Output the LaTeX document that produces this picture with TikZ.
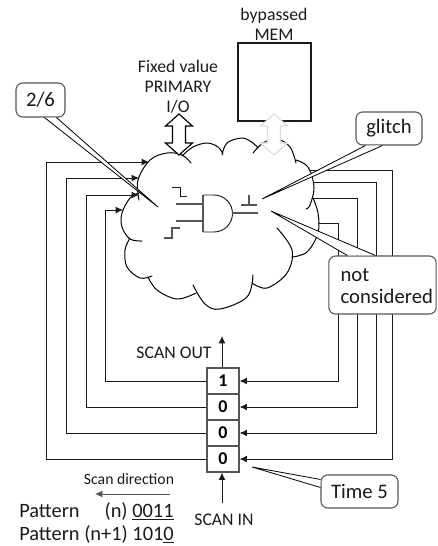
\documentclass[tikz,border=0pt]{standalone}
\usepackage{fontspec}
\setmainfont{Carlito}
\usepackage{xcolor}
\usetikzlibrary{calc,arrows.meta}
\definecolor{ink}{HTML}{1A1A1A}
\definecolor{steel}{HTML}{555555}
\definecolor{pale}{HTML}{DCDCDC}
\tikzset{
  wire/.style={draw=ink, line width=0.75pt, line join=miter},
  wireIn/.style={wire, -{Latex[length=5.5pt,width=5.2pt]}},
  cloudArc/.style={draw=black, line width=0.75pt, line cap=round},
  gateEdge/.style={draw=steel, line width=0.8pt},
  callBox/.style={draw=steel, rounded corners=5pt, fill=white, line width=0.8pt, inner sep=0pt},
  tailEdge/.style={draw=black, line width=0.6pt},
  cellBox/.style={draw=steel, fill=white, line width=0.9pt, minimum width=24pt, minimum height=19.5pt, inner sep=0pt, font=\fontsize{13.5}{15}\selectfont\bfseries},
  dblPort/.style={fill=white, line width=0.85pt},
  lbl/.style={font=\fontsize{13.3}{15}\selectfont, text=ink, align=center, inner sep=0pt},
  bigLbl/.style={font=\fontsize{15.5}{16.5}\selectfont, text=ink, align=left, inner sep=0pt},
  timeLbl/.style={font=\fontsize{15.5}{16}\selectfont, text=ink, inner sep=0pt},
  tinyLbl/.style={font=\fontsize{11.8}{13}\selectfont, text=ink, inner sep=0pt},
  patLbl/.style={font=\fontsize{15.3}{16}\selectfont, text=ink, inner sep=0pt},
}
\newcommand{\CallTail}[3]{%
  \fill[white] (#1) -- (#3) -- (#2) -- cycle;
  \draw[tailEdge] (#1) -- (#3) -- (#2);
}
\newcommand{\CloudBump}[1]{%
  \draw[cloudArc] plot[smooth,tension=0.6] coordinates {#1};
}
\newcommand{\DblPort}[2]{%
  \draw[dblPort, draw=#2, shift={(#1)}] (0,-20.5) -- (13.5,-8.5) -- (6.5,-8.5) -- (6.5,8.5) -- (13.5,8.5)
    -- (0,20.5) -- (-13.5,8.5) -- (-6.5,8.5) -- (-6.5,-8.5) -- (-13.5,-8.5) -- cycle;
}

\begin{document}
\begin{tikzpicture}[x=0.75pt,y=-0.75pt]
  \useasboundingbox (0,0) rectangle (437,546);

  % memory block
  \node[draw=ink, line width=0.9pt, minimum width=54.75pt, minimum height=58.5pt, inner sep=0pt] (mem) at (274.5,82) {};
  \node[lbl] (memLbl) at (274,24) {bypassed\\MEM};

  % cloud, one arc per bump
  \CloudBump{(139,200) (138,180) (150,160) (167,153) (182,155) (191,163)}
  \CloudBump{(182,156) (193,147) (207,143) (218,147) (223,154)}
  \CloudBump{(222,155) (227,143) (242,138) (253,143) (258,148)}
  \CloudBump{(253,153) (263,143) (277,139) (290,147) (296,163)}
  \CloudBump{(296,160) (308,167) (314,187) (310,205) (306,209)}
  \CloudBump{(313,198) (318,213) (318,233) (307,252) (292,257)}
  \CloudBump{(277,228) (292,250) (287,273) (267,288) (252,283)}
  \CloudBump{(253,275) (247,297) (220,309) (205,304) (193,285)}
  \CloudBump{(196,293) (177,299) (157,290) (148,277)}
  \CloudBump{(152,276) (140,278) (127,267) (125,250) (130,238)}
  \CloudBump{(142,241) (130,239) (122,227) (122,213) (130,198) (139,193)}

  % gate
  \draw[gateEdge] (203,195) -- (203,232);
  \draw[draw=ink, line width=0.7pt] (203,195) -- (214,195) arc (-90:90:18.5) -- (203,232);
  \draw[gateEdge] (176,204) -- (203,204);
  \draw[gateEdge] (176,221) -- (203,221);
  \draw[gateEdge] (232,213) -- (258,213);
  \draw[draw=ink, line width=0.65pt] (172,187) -- (180,187) -- (180,196) -- (187,196);
  \draw[gateEdge] (164,238) -- (172,238) -- (172,228) -- (180,228);
  \draw[gateEdge] (241,205) -- (257,205);
  \draw[gateEdge] (249,195) -- (249,205);

  % scan chain
  \foreach \cellName/\cellVal/\cellY in {cellA/1/381, cellB/0/407, cellC/0/433, cellD/0/459}{
    \node[cellBox] (\cellName) at (223,\cellY) {\cellVal};
  }
  \coordinate (outTip) at (222,336);
  \coordinate (inTail) at (222,503);
  \draw[wireIn] (cellA.north -| outTip) -- (outTip);
  \draw[wireIn] (inTail) -- (cellD.south -| inTail);
  \node[lbl] (scanOut) at (174,353) {SCAN OUT};
  \node[lbl] (scanIn) at (224,520) {SCAN IN};

  % left wires, cell to cloud
  \foreach \cellName/\wireX/\wireY/\tipX in {cellD/46/162/149, cellC/66/178/139, cellB/86.5/195/139, cellA/105/210/123}{
    \coordinate (tip\cellName) at (\tipX,\wireY);
    \draw[wireIn] (\cellName.west) -| (\wireX,\wireY) -- (tip\cellName);
  }
  % right wires, cloud to cell
  \foreach \cellName/\wireX/\wireY/\startX in {cellD/392/170/310, cellC/376/182/314, cellB/357/198/313, cellA/338/223/318}{
    \coordinate (from\cellName) at (\startX,\wireY);
    \draw[wireIn] (from\cellName) -- (\wireX,\wireY) |- (\cellName.east);
  }

  % ports
  \DblPort{179,134.5}{black}
  \DblPort{274,134.5}{pale}
  \node[lbl] (ioLbl) at (178,87) {Fixed value\\PRIMARY\\I/O};

  % callouts
  \node[callBox, minimum width=36.75pt, minimum height=25.5pt, bigLbl] (ratio) at (40.5,100) {2/6};
  \CallTail{$(ratio.south west)+(29,0)$}{$(ratio.south west)+(41,0)$}{158,207}
  \node[callBox, minimum width=49.5pt, minimum height=24.75pt, bigLbl] (glitch) at (389,128.5) {glitch};
  \CallTail{$(glitch.south west)+(10,0)$}{$(glitch.south west)+(27,0)$}{262,199}
  \node[callBox, minimum width=80.5pt, minimum height=43.5pt] (notCons) at (382.5,285) {};
  \node[bigLbl, anchor=west] (notLbl) at ($(notCons.west)+(12,1)$) {not\\considered};
  \CallTail{$(notCons.north west)+(19,0)$}{$(notCons.north west)+(47,0)$}{271,211}
  \node[callBox, minimum width=57.75pt, minimum height=24.75pt, timeLbl] (timeBox) at (359.5,491.5) {Time 5};
  \CallTail{$(timeBox.north west)+(0,5)$}{$(timeBox.north west)+(0,13)$}{252,467}

  % scan direction and patterns
  \node[tinyLbl] (scanDir) at (129,479) {Scan direction};
  \coordinate (dirEnd) at (95,494);
  \coordinate (dirStart) at (170,494);
  \draw[wireIn, draw=steel] (dirStart) -- (dirEnd);
  \node[patLbl, anchor=west] (patN) at (19,511) {\makebox[64pt][l]{Pattern}(n) \underline{0011}};
  \node[patLbl, anchor=west] (patM) at (19,534) {Pattern (n+1) 101\underline{0}};
\end{tikzpicture}
\end{document}
